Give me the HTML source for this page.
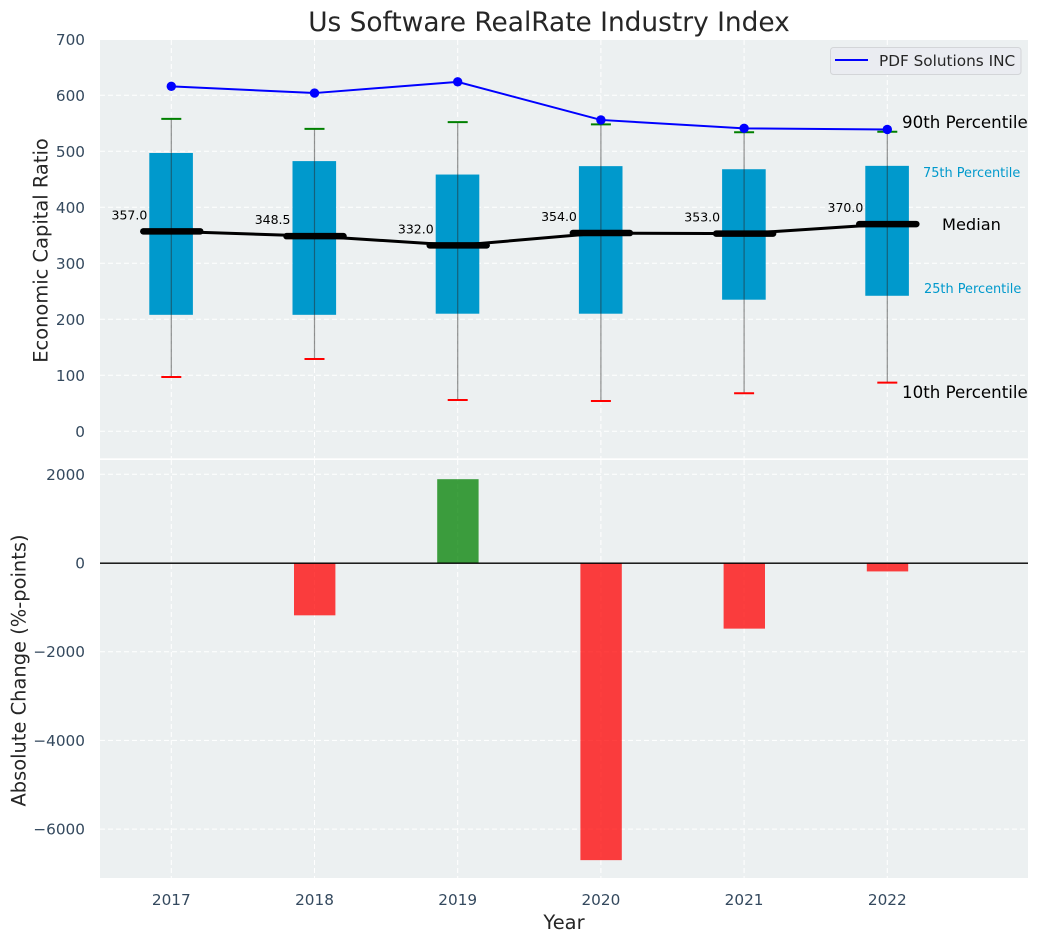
<!DOCTYPE html>
<html lang="en">
<head>
<meta charset="utf-8">
<title>Us Software RealRate Industry Index</title>
<style>
html,body{margin:0;padding:0;background:#fff;width:1039px;height:942px;overflow:hidden}
svg{display:block;font-family:"DejaVu Sans","Liberation Sans",sans-serif}
</style>
</head>
<body>
<svg id="chart" xmlns="http://www.w3.org/2000/svg" width="1039" height="942" viewBox="0 0 1039 942">
  <rect x="100" y="40" width="928" height="418.3" fill="#ecf0f1"/>
  <rect x="100" y="460" width="928" height="418" fill="#ecf0f1"/>
  <g id="grid"></g>
  <g id="bars"></g>
  <g id="boxes"></g>
  <g id="lines"></g>
  <g id="ticks"></g>
  <line x1="100" x2="1028" y1="563.2" y2="563.2" stroke="#000" stroke-width="1.4"/>
  <text x="549" y="31" text-anchor="middle" font-size="26.4px" fill="#262626">Us Software RealRate Industry Index</text>
  <text transform="translate(47.5,250.5) rotate(-90)" text-anchor="middle" font-size="19.44px" fill="#262626">Economic Capital Ratio</text>
  <text transform="translate(25.5,670.5) rotate(-90)" text-anchor="middle" font-size="19.44px" fill="#262626">Absolute Change (%-points)</text>
  <text x="564" y="929" text-anchor="middle" font-size="19.44px" fill="#262626">Year</text>
  <g>
    <rect x="830.5" y="47.5" width="190.5" height="27" rx="3" fill="#eaecf1" stroke="#d3d5d8" stroke-width="1"/>
    <line x1="835" x2="868" y1="60" y2="60" stroke="#0000ff" stroke-width="2"/>
    <text x="879" y="66" font-size="15.28px" fill="#262626">PDF Solutions INC</text>
  </g>
  <text x="902" y="128" font-size="16.67px" fill="#000">90th Percentile</text>
  <text x="923" y="177" font-size="12.9px" fill="#0099cc">75th Percentile</text>
  <text x="942" y="230" font-size="16.2px" fill="#000">Median</text>
  <text x="924" y="293" font-size="12.9px" fill="#0099cc">25th Percentile</text>
  <text x="902" y="398" font-size="16.67px" fill="#000">10th Percentile</text>
</svg>
<script>
const years = [2017, 2018, 2019, 2020, 2021, 2022];
const p10 = [97, 129, 56, 54, 68, 87];
const p25 = [208, 208, 210, 210, 235, 242];
const medians = [357.0, 348.5, 332.0, 354.0, 353.0, 370.0];
const p75 = [497, 482.5, 458.5, 473.5, 468, 474];
const p90 = [558, 540, 552, 548, 534, 535];
const companyValues = [616, 604, 624, 556, 541, 539];
const changes = [0, -1180, 1890, -6700, -1480, -190];
const topTicks = [0, 100, 200, 300, 400, 500, 600, 700];
const bottomTicks = [-6000, -4000, -2000, 0, 2000];

const SVGNS = 'http://www.w3.org/2000/svg';
const xPos = function (year) { return 171.3 + (year - 2017) * 143.2; };
const yTop = function (v) { return 431.3 - v * 0.56; };
const yBottom = function (v) { return 563 - v * 0.04435; };

function mk(tag, attrs, parent) {
  const el = document.createElementNS(SVGNS, tag);
  Object.keys(attrs).forEach(function (k) { el.setAttribute(k, attrs[k]); });
  parent.appendChild(el);
  return el;
}

const gridG = document.getElementById('grid');
const barsG = document.getElementById('bars');
const boxesG = document.getElementById('boxes');
const linesG = document.getElementById('lines');
const ticksG = document.getElementById('ticks');
const gridStyle = { stroke: '#ffffff', 'stroke-width': 1, 'stroke-dasharray': '5 3' };

topTicks.forEach(function (t) {
  const g = mk('line', Object.assign({ x1: 100, x2: 1028, y1: yTop(t), y2: yTop(t) }, gridStyle), gridG);
  
  
  const label = mk('text', { x: 85, y: yTop(t) + 5.5, 'text-anchor': 'end', 'font-size': '15.28px', fill: '#34495e' }, ticksG);
  
  
  label.textContent = String(t);
});

bottomTicks.forEach(function (t) {
  const g = mk('line', Object.assign({ x1: 100, x2: 1028, y1: yBottom(t), y2: yBottom(t) }, gridStyle), gridG);
  
  
  const label = mk('text', { x: 85, y: yBottom(t) + 5.5, 'text-anchor': 'end', 'font-size': '15.28px', fill: '#34495e' }, ticksG);
  
  
  label.textContent = String(t).replace('-', '\u2212');
});

years.forEach(function (yr, i) {
  const x = xPos(yr);

  const vTop = mk('line', Object.assign({ x1: x, x2: x, y1: 40, y2: 458.3 }, gridStyle), gridG);
  
  
  const vBottom = mk('line', Object.assign({ x1: x, x2: x, y1: 460, y2: 878 }, gridStyle), gridG);
  
  

  const tick = mk('text', { x: x, y: 905, 'text-anchor': 'middle', 'font-size': '15.28px', fill: '#34495e' }, ticksG);
  
  
  tick.textContent = String(yr);

  const yA = yBottom(Math.max(changes[i], 0));
  const yB = yBottom(Math.min(changes[i], 0));
  const bar = mk('rect', { x: x - 20.5, y: yA, width: 41.4, height: yB - yA, fill: changes[i] >= 0 ? 'rgba(0,128,0,0.75)' : 'rgba(255,0,0,0.75)' }, barsG);
  
  

  const box = mk('rect', { x: x - 22, y: yTop(p75[i]), width: 43.6, height: yTop(p25[i]) - yTop(p75[i]), fill: '#0099cc' }, boxesG);
  
  

  const whisker = mk('line', { x1: x, x2: x, y1: yTop(p90[i]), y2: yTop(p10[i]), stroke: 'rgba(40,40,40,0.5)', 'stroke-width': 1.2 }, boxesG);
  
  

  const capHigh = mk('line', { x1: x - 10, x2: x + 10, y1: yTop(p90[i]), y2: yTop(p90[i]), stroke: '#008000', 'stroke-width': 2 }, boxesG);
  
  

  const capLow = mk('line', { x1: x - 10, x2: x + 10, y1: yTop(p10[i]), y2: yTop(p10[i]), stroke: '#ff0000', 'stroke-width': 2 }, boxesG);
  
  
});

const medianPath = mk('polyline', {
  points: years.map(function (yr, i) { return xPos(yr) + ',' + yTop(medians[i]); }).join(' '),
  fill: 'none', stroke: '#000', 'stroke-width': 3
}, linesG);



const companyPath = mk('polyline', {
  points: years.map(function (yr, i) { return xPos(yr) + ',' + yTop(companyValues[i]); }).join(' '),
  fill: 'none', stroke: '#0000ff', 'stroke-width': 2
}, linesG);



years.forEach(function (yr, i) {
  const x = xPos(yr);

  const mark = mk('line', { x1: x - 28, x2: x + 29, y1: yTop(medians[i]), y2: yTop(medians[i]), stroke: '#000', 'stroke-width': 6.5, 'stroke-linecap': 'round' }, linesG);
  
  

  const value = mk('text', { x: x - 24, y: yTop(medians[i]) - 12, 'text-anchor': 'end', 'font-size': '12.5px', fill: '#000' }, linesG);
  
  
  value.textContent = medians[i].toFixed(1);

  const dot = mk('circle', { cx: x, cy: yTop(companyValues[i]), r: 4.7, fill: '#0000ff' }, linesG);
  
  
});
</script>
</body>
</html>
